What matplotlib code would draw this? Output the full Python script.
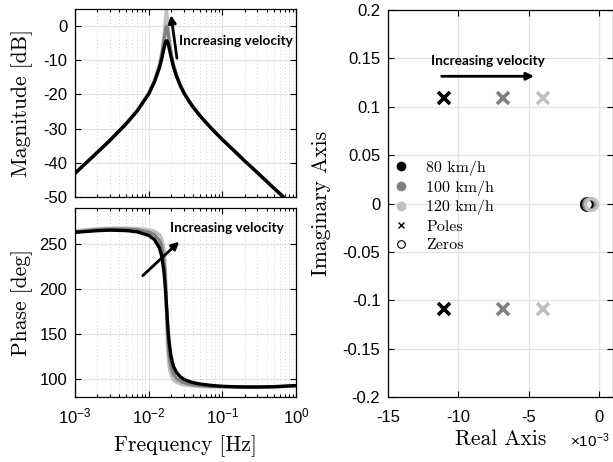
import matplotlib
matplotlib.use("Agg")
import matplotlib.pyplot as plt
from matplotlib.lines import Line2D
from matplotlib.ticker import FuncFormatter, LogLocator, NullFormatter

plt.rcParams['font.family'] = ['Liberation Sans', 'DejaVu Sans']
plt.rcParams['mathtext.fontset'] = 'custom'
plt.rcParams['mathtext.rm'] = 'Liberation Sans'
plt.rcParams['mathtext.it'] = 'Liberation Sans:italic'
plt.rcParams['mathtext.bf'] = 'Liberation Sans:bold'
plt.rcParams['mathtext.sf'] = 'Liberation Sans'
plt.rcParams['axes.unicode_minus'] = False

# ---------------- data ----------------
freq_hz = [1e-3, 2e-3, 3e-3, 5e-3, 7e-3, 0.01, 0.012, 0.014, 0.015, 0.016, 0.0165,
           0.017, 0.0172, 0.0174, 0.0176, 0.0178, 0.018, 0.0185, 0.019, 0.02, 0.021,
           0.022, 0.024, 0.027, 0.03, 0.035, 0.04, 0.05, 0.07, 0.1, 0.15, 0.2, 0.3,
           0.5, 0.7, 1.0]

mag_80 = [-43.1, -37.0, -33.4, -28.5, -24.8, -19.9, -16.3, -12.2, -9.7, -6.9, -5.6,
          -4.7, -4.4, -4.3, -4.3, -4.4, -4.6, -5.4, -6.5, -8.7, -10.7,
          -12.3, -14.8, -17.5, -19.5, -21.9, -23.7, -26.3, -29.8, -33.2, -36.8, -39.4, -42.9,
          -47.4, -50.3, -53.4]
mag_100 = [-43.0, -37.0, -33.3, -28.4, -24.7, -19.7, -16.1, -11.6, -8.6, -4.9, -2.8,
           -0.9, -0.4, -0.1, -0.2, -0.5, -1.1, -2.8, -4.7, -7.8, -10.1,
           -11.9, -14.6, -17.4, -19.4, -21.8, -23.6, -26.3, -29.8, -33.2, -36.8, -39.4, -42.9,
           -47.4, -50.3, -53.4]
mag_120 = [-43.0, -36.9, -33.3, -28.4, -24.7, -19.6, -16.0, -11.3, -8.1, -3.7, -0.7,
           2.8, 3.9, 4.5, 4.2, 3.3, 2.0, -1.1, -3.7, -7.3, -9.9,
           -11.8, -14.6, -17.4, -19.4, -21.8, -23.6, -26.3, -29.8, -33.2, -36.8, -39.4, -42.9,
           -47.4, -50.3, -53.4]

phase_80 = [263.0, 264.8, 265.4, 264.9, 263.5, 259.6, 254.9, 245.6, 236.8, 221.7, 210.4,
            196.2, 189.8, 183.3, 176.8, 170.4, 164.3, 150.9, 140.4, 126.5, 118.3,
            113.1, 107.0, 102.3, 99.8, 97.4, 96.0, 94.4, 92.9, 91.9, 91.4, 91.2, 91.1,
            91.5, 92.0, 92.7]
phase_100 = [263.2, 266.0, 266.6, 266.5, 265.7, 263.3, 260.3, 254.0, 247.5, 234.3, 222.0,
             203.0, 193.3, 182.9, 172.3, 162.4, 153.5, 136.6, 125.9, 114.2, 108.2,
             104.6, 100.6, 97.6, 96.0, 94.5, 93.7, 92.7, 91.8, 91.5, 91.1, 90.9, 90.9,
             91.3, 91.8, 92.5]
phase_120 = [264.8, 267.0, 267.6, 267.7, 267.3, 265.9, 264.1, 260.3, 256.1, 246.7, 236.3,
             214.6, 200.4, 183.2, 165.6, 150.4, 138.8, 121.4, 112.8, 104.6, 100.8,
             98.6, 96.2, 94.4, 93.5, 92.6, 92.1, 91.6, 91.0, 91.3, 91.0, 90.8, 90.8,
             91.2, 91.7, 92.4]

speed_labels = ['80 km/h', '100 km/h', '120 km/h']
series_colors = ['#000000', '#808080', '#c0c0c0']
pole_real = [-0.0110, -0.0068, -0.0040]
pole_imag = [0.109, 0.109, 0.109]
zero_real = [-0.00085, -0.0007, -0.00055]
zero_imag = [0.0, 0.0, 0.0]

mags = [mag_80, mag_100, mag_120]
phases = [phase_80, phase_100, phase_120]

# ---------------- figure ----------------
W, H = 613, 462
fig = plt.figure(figsize=(W / 100, H / 100), dpi=100)

def rect(l, t, r, b):
    return [l / W, 1 - b / H, (r - l) / W, (b - t) / H]

ax_mag = fig.add_axes(rect(75, 9, 296, 197))
ax_ph = fig.add_axes(rect(75, 208, 296, 397))
ax_pz = fig.add_axes(rect(388, 10, 612.5, 397))

cm = dict(family='cmr10', size=15.5)
tick_fs = 12
major_grid = dict(color='#e3e3e3', linewidth=0.9, linestyle='-')
minor_grid = dict(color='#d2d2d2', linewidth=0.7, linestyle=(0, (1, 2.5)))
arrow_kw = dict(arrowstyle='-|>', color='k', lw=2.0, mutation_scale=11,
                shrinkA=0, shrinkB=0)
note_font = dict(family='Lato', weight='bold', size=9.8)

for ax in (ax_mag, ax_ph):
    ax.set_xscale('log')
    ax.set_xlim(1e-3, 1.0)
    ax.xaxis.set_major_locator(LogLocator(base=10, numticks=10))
    ax.xaxis.set_minor_locator(LogLocator(base=10, subs=range(2, 10), numticks=10))
    ax.xaxis.set_minor_formatter(NullFormatter())
    ax.set_axisbelow(True)
    ax.grid(True, which='major', **major_grid)
    ax.grid(True, which='minor', axis='x', **minor_grid)
    ax.tick_params(which='both', direction='in', top=True, right=True,
                   labelsize=tick_fs, width=0.8)
    ax.tick_params(which='major', length=4)
    ax.tick_params(which='minor', length=2.5)
    ax.tick_params(axis='y', pad=5.5)
    for sp in ax.spines.values():
        sp.set_linewidth(0.9)

# magnitude
for vals, c in zip(mags[::-1], series_colors[::-1]):
    ax_mag.plot(freq_hz, vals, color=c, lw=2.4, solid_capstyle='round')
ax_mag.set_ylim(-50, 5)
ax_mag.set_yticks([0, -10, -20, -30, -40, -50])
ax_mag.tick_params(axis='x', labelbottom=False)
ax_mag.set_ylabel('Magnitude [dB]', fontdict=cm)
ax_mag.yaxis.set_label_coords(-0.19, 0.5)
ax_mag.annotate('', xy=(0.0201, 3.2), xytext=(0.0242, -9.4), arrowprops=arrow_kw)
ax_mag.text(0.0258, -4.3, 'Increasing velocity', ha='left', va='center', **note_font)

# phase
for vals, c in zip(phases[::-1], series_colors[::-1]):
    ax_ph.plot(freq_hz, vals, color=c, lw=2.4, solid_capstyle='round')
ax_ph.set_ylim(80, 290)
ax_ph.set_yticks([100, 150, 200, 250])
ax_ph.tick_params(axis='x', pad=7)
ax_ph.set_ylabel('Phase [deg]', fontdict=cm)
ax_ph.yaxis.set_label_coords(-0.19, 0.5)
ax_ph.set_xlabel('Frequency [Hz]', fontdict=cm)
ax_ph.xaxis.set_label_coords(0.5, -0.203)
ax_ph.annotate('', xy=(0.026, 252.6), xytext=(0.0083, 214.8), arrowprops=arrow_kw)
ax_ph.text(0.0195, 268, 'Increasing velocity', ha='left', va='center', **note_font)

# pole-zero map
ax_pz.set_xlim(-0.015, 0.00096)
ax_pz.set_ylim(-0.2, 0.2)
ax_pz.set_xticks([-0.015, -0.010, -0.005, 0.0])
ax_pz.set_yticks([-0.2, -0.15, -0.1, -0.05, 0, 0.05, 0.1, 0.15, 0.2])
ax_pz.xaxis.set_major_formatter(FuncFormatter(lambda v, p: '%g' % round(v * 1e3, 6)))
ax_pz.yaxis.set_major_formatter(FuncFormatter(lambda v, p: '%g' % round(v, 6)))
ax_pz.set_axisbelow(True)
ax_pz.grid(True, which='major', **major_grid)
ax_pz.tick_params(which='both', direction='in', top=True, right=True,
                  labelsize=tick_fs, length=4, width=0.8, pad=5.5)
ax_pz.tick_params(axis='x', pad=9)
for sp in ax_pz.spines.values():
    sp.set_linewidth(0.9)

for pr, pi, c in zip(pole_real, pole_imag, series_colors):
    ax_pz.plot([pr, pr], [pi, -pi], linestyle='none', marker='x', ms=8, mew=2.6, color=c)
for zr, zi, c in zip(zero_real, zero_imag, series_colors):
    ax_pz.plot([zr], [zi], linestyle='none', marker='o', ms=8.5, mew=2.4,
               markerfacecolor='none', markeredgecolor=c)

ax_pz.annotate('', xy=(-0.00462, 0.1315), xytext=(-0.01118, 0.1315), arrowprops=arrow_kw)
ax_pz.text(-0.00793, 0.147, 'Increasing velocity', ha='center', va='center', **note_font)

ax_pz.set_ylabel('Imaginary Axis', fontdict=cm)
ax_pz.yaxis.set_label_coords(-0.254, 0.5)
ax_pz.set_xlabel('Real Axis', fontdict=cm)
ax_pz.xaxis.set_label_coords(0.5, -0.084)
fig.text(590 / W, 1 - 441 / H, r'$\times10^{-3}$', ha='center', va='center', fontsize=11)

handles = [Line2D([], [], linestyle='none', marker='o', ms=6, color=c) for c in series_colors]
handles += [Line2D([], [], linestyle='none', marker='x', ms=5, mew=1.0, color='k'),
            Line2D([], [], linestyle='none', marker='o', ms=5.5, mew=0.8,
                   markerfacecolor='none', markeredgecolor='k')]
labels = speed_labels + ['Poles', 'Zeros']
leg = ax_pz.legend(handles, labels, loc='upper left', bbox_to_anchor=(0.022, 0.6115),
                   frameon=False, prop=dict(family='cmr10', size=11.5),
                   handlelength=1.0, handletextpad=1.1, labelspacing=0.27,
                   borderpad=0, borderaxespad=0)

fig.savefig('out.png', dpi=100)
